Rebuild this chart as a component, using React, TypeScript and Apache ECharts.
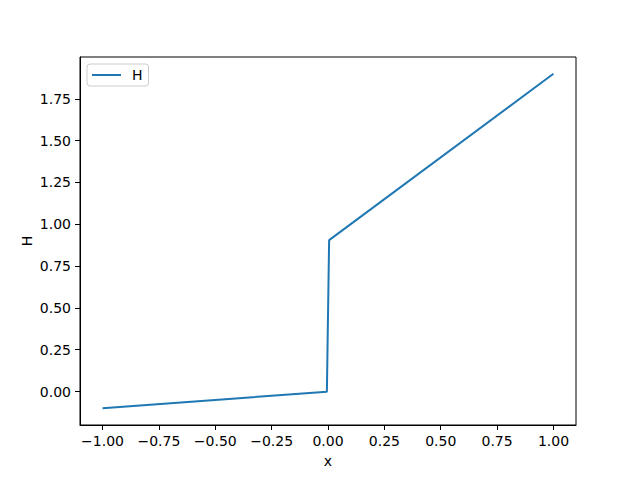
import React, { useEffect, useRef } from "react";
import * as echarts from "echarts";

const xValues = [-1, -0.005, 0.005, 1];
const hValues = [-0.1, -0.0005, 0.905, 1.9];
const xTicks = [-1, -0.75, -0.5, -0.25, 0, 0.25, 0.5, 0.75, 1];
const yTicks = [0, 0.25, 0.5, 0.75, 1, 1.25, 1.5, 1.75];

const fmt = (v: number) => {
  const s = Math.abs(v).toFixed(2);
  return v < -1e-9 ? "\u2212" + s : s;
};

export default function App() {
  const ref = useRef<HTMLDivElement>(null);
  useEffect(() => {
    if (!ref.current) return;
    const chart = echarts.init(ref.current, null, { renderer: "svg" });
    const font = "DejaVu Sans";
    chart.setOption({
      animation: false,
      backgroundColor: "#ffffff",
      textStyle: { fontFamily: font },
      grid: {
        left: 80,
        right: 64,
        top: 57,
        bottom: 53,
        show: true,
        borderColor: "#000",
        borderWidth: 1,
        backgroundColor: "transparent",
      },
      legend: {
        left: 87,
        top: 64,
        orient: "vertical",
        padding: [4, 6, 4, 5],
        borderColor: "#cccccc",
        borderWidth: 1,
        borderRadius: 3,
        backgroundColor: "#ffffff",
        icon: "rect",
        itemWidth: 29,
        itemHeight: 2,
        textStyle: {
          fontFamily: font,
          fontSize: 14,
          color: "#000",
          padding: [0, 0, 0, 6],
        },
        data: [{ name: "H", itemStyle: { color: "#1f77b4" } }],
      },
      xAxis: {
        type: "value",
        min: -1.1,
        max: 1.1,
        name: "x",
        nameLocation: "middle",
        nameGap: 29,
        nameMoveOverlap: false,
        nameTextStyle: { fontFamily: font, fontSize: 14, color: "#000" },
        splitLine: { show: false },
        axisLine: { show: true, onZero: false, lineStyle: { color: "#000", width: 1 } },
        axisTick: {
          show: true,
          length: 5,
          customValues: xTicks,
          lineStyle: { color: "#000", width: 1 },
        },
        axisLabel: {
          customValues: xTicks,
          formatter: (v: number) => fmt(v),
          fontFamily: font,
          fontSize: 14,
          color: "#000",
          margin: 9,
        },
      },
      yAxis: {
        type: "value",
        min: -0.2,
        max: 2.0,
        name: "H",
        nameLocation: "middle",
        nameGap: 46,
        nameMoveOverlap: false,
        nameRotate: 90,
        nameTextStyle: { fontFamily: font, fontSize: 14, color: "#000" },
        splitLine: { show: false },
        axisLine: { show: true, onZero: false, lineStyle: { color: "#000", width: 1 } },
        axisTick: {
          show: true,
          length: 5,
          customValues: yTicks,
          lineStyle: { color: "#000", width: 1 },
        },
        axisLabel: {
          customValues: yTicks,
          formatter: (v: number) => fmt(v),
          fontFamily: font,
          fontSize: 14,
          color: "#000",
          margin: 9,
        },
      },
      series: [
        {
          name: "H",
          type: "line",
          data: xValues.map((x, i) => [x, hValues[i]]),
          showSymbol: false,
          symbol: "none",
          lineStyle: { color: "#1f77b4", width: 2 },
          itemStyle: { color: "#1f77b4" },
        },
      ],
    });
    return () => chart.dispose();
  }, []);
  return <div ref={ref} style={{ width: 640, height: 478, position: "absolute", left: 0, top: 0 }} />;
}
